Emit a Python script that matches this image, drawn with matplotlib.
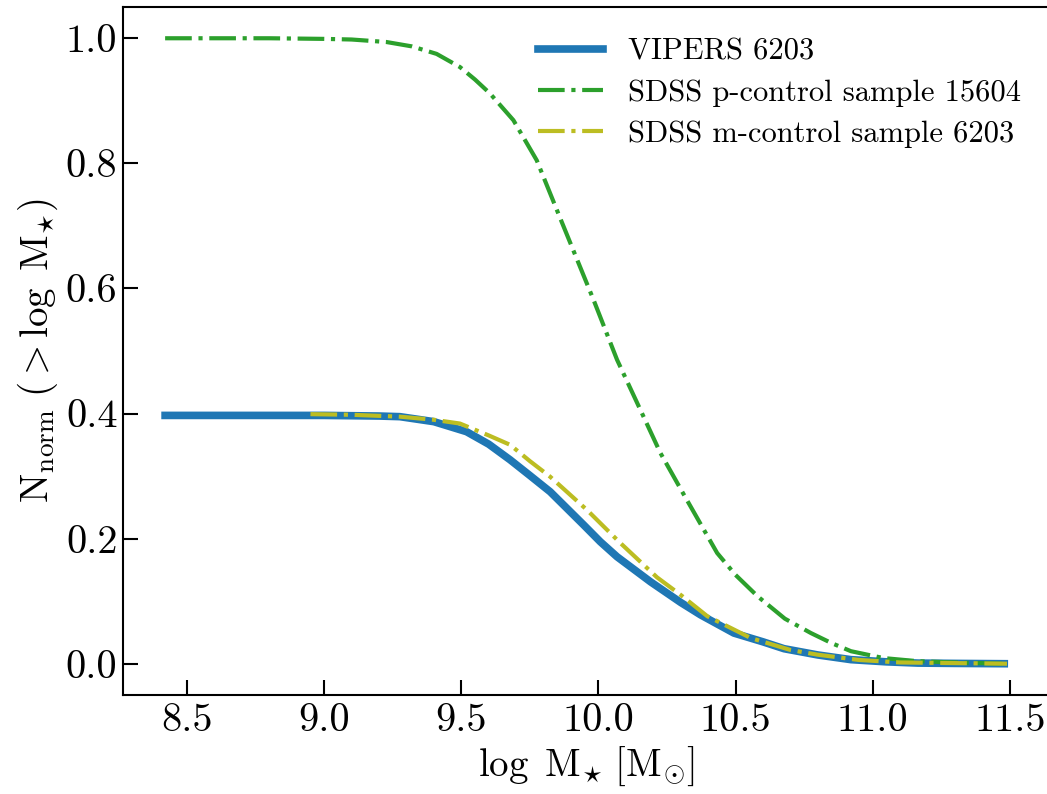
import numpy as np
import matplotlib
matplotlib.use("Agg")
import matplotlib.pyplot as plt

plt.rcParams['font.family'] = 'serif'
plt.rcParams['font.serif'] = ['cmr10']
plt.rcParams['mathtext.fontset'] = 'cm'
plt.rcParams['axes.unicode_minus'] = False

# cumulative normalised counts
vipers_x = [8.42, 8.8, 9.0, 9.2, 9.276, 9.4, 9.519, 9.6, 9.678, 9.75, 9.824, 9.946,
            10.007, 10.068, 10.19, 10.3, 10.373, 10.494, 10.6, 10.677, 10.8, 10.921,
            11.05, 11.165, 11.3, 11.48]
vipers_y = [0.397, 0.397, 0.397, 0.396, 0.395, 0.387, 0.371, 0.351, 0.326, 0.301, 0.275, 0.222,
            0.195, 0.171, 0.131, 0.098, 0.078, 0.049, 0.035, 0.024, 0.014, 0.0065,
            0.003, 0.001, 0.0005, 0.0]

pcontrol_x = [8.42, 8.8, 9.0, 9.1, 9.227, 9.32, 9.41, 9.495, 9.55, 9.604, 9.69, 9.775,
              9.861, 9.983, 10.068, 10.153, 10.226, 10.312, 10.433, 10.5, 10.58, 10.68,
              10.775, 10.85, 10.921, 11.04, 11.165, 11.3, 11.48]
pcontrol_y = [1.0, 1.0, 0.999, 0.998, 0.994, 0.987, 0.975, 0.954, 0.934, 0.912, 0.869, 0.805,
              0.712, 0.581, 0.486, 0.406, 0.337, 0.270, 0.177, 0.142, 0.108, 0.072,
              0.049, 0.033, 0.020, 0.009, 0.004, 0.002, 0.0]

mcontrol_x = [8.95, 9.1, 9.276, 9.4, 9.495, 9.6, 9.678, 9.75, 9.824, 9.958, 10.08, 10.214,
              10.3, 10.397, 10.556, 10.7, 10.8, 10.95, 11.1, 11.3, 11.49]
mcontrol_y = [0.399, 0.398, 0.395, 0.390, 0.384, 0.365, 0.350, 0.324, 0.299, 0.246, 0.193, 0.138,
              0.110, 0.076, 0.041, 0.022, 0.0144, 0.006, 0.002, 0.001, 0.0]

labels = ['VIPERS 6203', 'SDSS p-control sample 15604', 'SDSS m-control sample 6203']

fig = plt.figure(figsize=(10.47, 7.94), dpi=100)
ax = fig.add_axes([0.1175, 0.1247, 0.8845, 0.8665])

ax.plot(vipers_x, vipers_y, color='#1f77b4', lw=5.5, label=labels[0])
ax.plot(pcontrol_x, pcontrol_y, color='#2ca02c', lw=3, ls='-.', label=labels[1])
ax.plot(mcontrol_x, mcontrol_y, color='#bcbd22', lw=3, ls='-.', label=labels[2])

ax.set_xticks([8.5, 9.0, 9.5, 10.0, 10.5, 11.0, 11.5])
ax.set_yticks([0.0, 0.2, 0.4, 0.6, 0.8, 1.0])
ax.tick_params(direction='in', length=11, width=1.5, labelsize=29, pad=6)
ax.tick_params(axis='y', pad=4)
for s in ax.spines.values():
    s.set_linewidth(1.5)

ax.set_xlabel(r'$\log\ \mathrm{M}_{\star}\ [\mathrm{M}_{\odot}]$', fontsize=28)
ax.set_ylabel(r'$\mathrm{N}_{\mathrm{norm}}\ (>\log\ \mathrm{M}_{\star})$', fontsize=28)

ax.legend(loc='upper right', frameon=False, fontsize=22, handlelength=2.15,
          labelspacing=0.45, bbox_to_anchor=(0.999, 0.995))

fig.savefig('out.png', dpi=100)
